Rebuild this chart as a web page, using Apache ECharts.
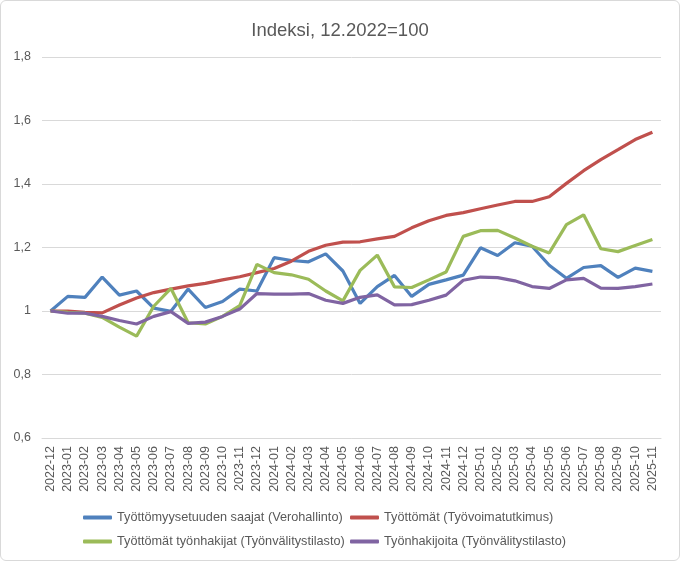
<!DOCTYPE html>
<html><head><meta charset="utf-8">
<script src="https://cdn.jsdelivr.net/npm/echarts@6/dist/echarts.min.js"></script>
<style>
html,body{margin:0;padding:0;background:#fff;}
#c{width:680px;height:561px;box-sizing:border-box;border:1px solid #d9d9d9;border-radius:6px;}
</style></head>
<body><div id="c"></div>
<script>
const categories = ['2022-12','2023-01','2023-02','2023-03','2023-04','2023-05','2023-06','2023-07','2023-08','2023-09','2023-10','2023-11','2023-12','2024-01','2024-02','2024-03','2024-04','2024-05','2024-06','2024-07','2024-08','2024-09','2024-10','2024-11','2024-12','2025-01','2025-02','2025-03','2025-04','2025-05','2025-06','2025-07','2025-08','2025-09','2025-10','2025-11'];
const seriesNames = ['Työttömyysetuuden saajat (Verohallinto)','Työttömät (Työvoimatutkimus)','Työttömät työnhakijat (Työnvälitystilasto)','Työnhakijoita (Työnvälitystilasto)'];
const verohallinto = [1.000,1.046,1.043,1.107,1.050,1.063,1.009,0.999,1.069,1.011,1.030,1.069,1.063,1.168,1.159,1.155,1.180,1.126,1.024,1.077,1.112,1.046,1.084,1.098,1.113,1.199,1.175,1.215,1.204,1.144,1.103,1.137,1.143,1.106,1.135,1.125];
const tyovoimatutkimus = [1.000,1.000,0.996,0.994,1.019,1.041,1.058,1.069,1.079,1.087,1.098,1.108,1.121,1.134,1.157,1.188,1.207,1.217,1.218,1.227,1.235,1.262,1.284,1.301,1.310,1.322,1.334,1.345,1.345,1.360,1.402,1.442,1.477,1.508,1.540,1.563];
const tyottomatTyonhakijat = [1.000,0.996,0.993,0.980,0.949,0.921,1.015,1.071,0.963,0.959,0.983,1.017,1.147,1.121,1.114,1.100,1.063,1.032,1.128,1.176,1.076,1.074,1.098,1.123,1.235,1.253,1.254,1.230,1.204,1.183,1.272,1.303,1.196,1.187,1.206,1.225];
const tyonhakijoita = [1.000,0.993,0.993,0.983,0.970,0.959,0.983,0.998,0.961,0.965,0.983,1.006,1.055,1.053,1.053,1.055,1.034,1.024,1.043,1.051,1.019,1.020,1.034,1.050,1.097,1.107,1.105,1.095,1.077,1.071,1.098,1.103,1.072,1.071,1.077,1.085];
const colors = ['#4F81BD','#C0504D','#9BBB59','#8064A2'];
const allData = [verohallinto, tyovoimatutkimus, tyottomatTyonhakijat, tyonhakijoita];

const font = 'Liberation Sans';
const txt = '#595959';
const chart = echarts.init(document.getElementById('c'));
const legendPos = [[77,505],[344,505],[77,529],[344,529]];
chart.setOption({
  animation:false,
  title:{text:'Indeksi, 12.2022=100',left:'center',top:15,textStyle:{fontFamily:font,fontSize:18.5,fontWeight:'normal',color:txt}},
  grid:{left:41,right:18,top:56,bottom:122,containLabel:false},
  legend: seriesNames.map((n,i)=>({
    data:[n],left:legendPos[i][0],top:legendPos[i][1],
    icon:'roundRect',itemWidth:29,itemHeight:4,itemGap:4,
    textStyle:{fontFamily:font,fontSize:12.7,color:txt}
  })),
  xAxis:{type:'category',data:categories,boundaryGap:true,
    axisLine:{show:true,lineStyle:{color:'#d9d9d9'}},axisTick:{show:false},
    axisLabel:{rotate:90,interval:0,fontFamily:font,fontSize:12.5,color:txt,margin:8}},
  yAxis:{type:'value',min:0.6,max:1.8,interval:0.2,
    axisLine:{show:false},axisTick:{show:false},
    splitLine:{lineStyle:{color:'#d9d9d9'}},
    axisLabel:{fontFamily:font,fontSize:12.5,color:txt,margin:11,
      formatter:v=>String(+v.toFixed(1)).replace('.',',')}},
  series: seriesNames.map((n,i)=>({
    name:n,type:'line',data:allData[i],symbol:'none',
    lineStyle:{width:3.2,color:colors[i]},itemStyle:{color:colors[i]}
  }))
});
</script></body></html>
